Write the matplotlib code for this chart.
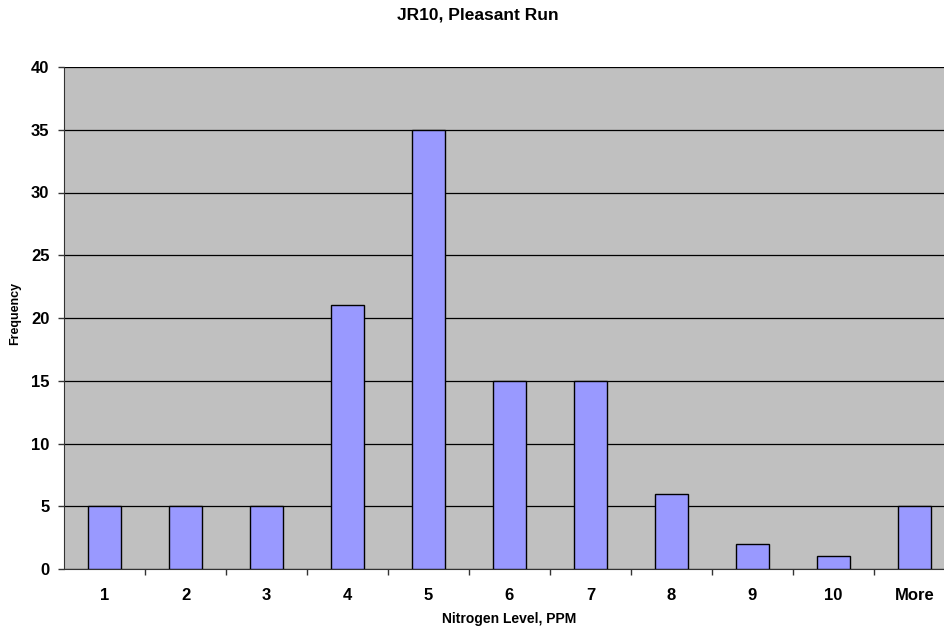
import matplotlib
import numpy as np

matplotlib.use("Agg")
import matplotlib.pyplot as plt  # noqa: E402
from matplotlib.ticker import FixedLocator, NullFormatter  # noqa: E402

bins = ["1", "2", "3", "4", "5", "6", "7", "8", "9", "10", "More"]
frequency = [5, 5, 5, 21, 35, 15, 15, 6, 2, 1, 5]

plt.rcParams["font.family"] = ["Liberation Sans", "DejaVu Sans"]
plt.rcParams["font.weight"] = "bold"

fig = plt.figure(figsize=(9.45, 6.33), dpi=100, facecolor="white")
# the plot box runs a little past the right edge of the figure
ax_box = [64 / 945, 64 / 633, 891 / 945, 502 / 633]
ax = fig.add_axes(ax_box, facecolor="#C0C0C0")

x = np.arange(len(bins))
ax.bar(x, frequency, width=0.41, color="#9999FF", edgecolor="black", linewidth=1.0, zorder=3)

ax.set_xlim(-0.5, len(bins) - 0.5)
ax.set_ylim(0, 40)
ax.set_yticks(np.arange(0, 41, 5))
ax.yaxis.grid(True, color="black", linewidth=0.9, zorder=1)
ax.set_axisbelow(True)

ax.set_xticks(x)
ax.set_xticklabels(bins, fontsize=12, fontweight="bold")
ax.tick_params(axis="x", which="major", length=0, pad=14)
ax.xaxis.set_minor_locator(FixedLocator(np.arange(0.5, len(bins) - 0.5, 1)))
ax.xaxis.set_minor_formatter(NullFormatter())
ax.tick_params(axis="x", which="minor", length=4.5, width=1, direction="out", color="#333")
ax.tick_params(axis="y", length=4.5, width=1, color="#333", pad=6, labelsize=12)
for lbl in ax.get_yticklabels():
    lbl.set_fontweight("bold")

for side in ["top", "right"]:
    ax.spines[side].set_visible(False)
ax.spines["left"].set_color("#333")
ax.spines["bottom"].set_color("#333")

x_mid = ax_box[0] + ax_box[2] / 2
fig.text(478 / 945, 1 - 15 / 633, "JR10, Pleasant Run", ha="center", va="center",
         fontsize=12.5, fontweight="bold")
fig.text(x_mid, 1 - 619 / 633, "Nitrogen Level, PPM", ha="center", va="center",
         fontsize=10, fontweight="bold")
fig.text(15 / 945, 1 - 313 / 633, "Frequency", ha="center", va="center",
         rotation=90, fontsize=9, fontweight="bold")

fig.savefig("out.png", dpi=100, facecolor="white")
